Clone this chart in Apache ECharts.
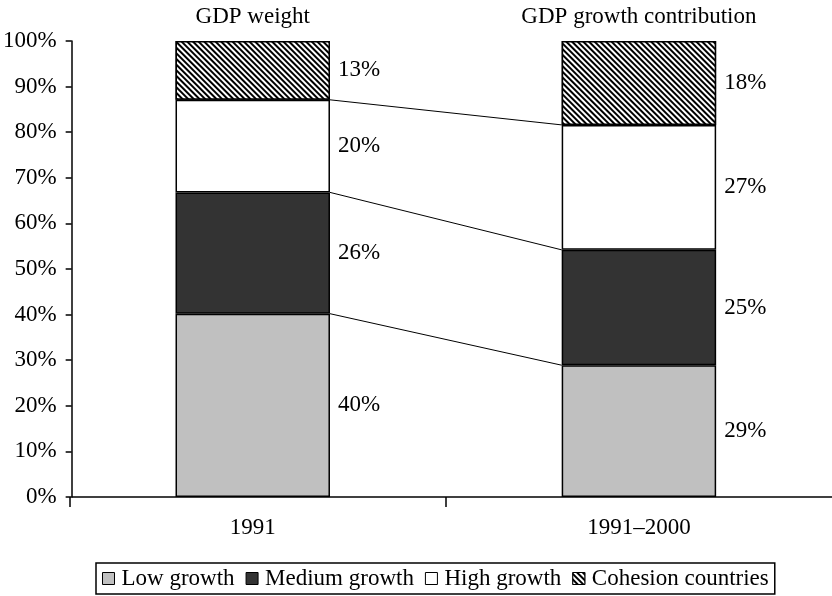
<!DOCTYPE html>
<html>
<head>
<meta charset="utf-8">
<script src="https://cdn.jsdelivr.net/npm/echarts@6/dist/echarts.min.js"></script>
<style>html,body{margin:0;padding:0;background:#fff;}#c{width:832px;height:596px;}</style>
</head>
<body>
<div id="c"></div>
<script>
var categories = ['1991', '1991\u20132000'];
var topLabels = ['GDP weight', 'GDP growth contribution'];
var seriesNames = ['Low growth', 'Medium growth', 'High growth', 'Cohesion countries'];
var lowGrowth = [40.2, 28.9];
var mediumGrowth = [26.6, 25.3];
var highGrowth = [20.3, 27.4];
var cohesion = [12.9, 18.4];
var lowLabels = ['40%', '29%'];
var mediumLabels = ['26%', '25%'];
var highLabels = ['20%', '27%'];
var cohesionLabels = ['13%', '18%'];
var yTicks = [0, 10, 20, 30, 40, 50, 60, 70, 80, 90, 100];

var FONT = '"Liberation Serif", "Times New Roman", serif';
var FS = 23;
var values = [lowGrowth, mediumGrowth, highGrowth, cohesion];
var labels = [lowLabels, mediumLabels, highLabels, cohesionLabels];
var styles = [
  {color: '#c0c0c0'},
  {color: '#333333'},
  {color: '#ffffff'},
  {color: '#ffffff', decal: {symbol: 'rect', symbolSize: 1, dashArrayX: [1, 0], dashArrayY: [2, 2], rotation: Math.PI / 4, color: '#000000', backgroundColor: '#ffffff'}}
];

var series = [];
values.forEach(function (arr, k) {
  series.push({
    name: seriesNames[k],
    type: 'bar',
    stack: 'total',
    xAxisIndex: 0,
    yAxisIndex: 0,
    barWidth: '40%',
    data: arr,
    itemStyle: Object.assign({borderColor: '#000', borderWidth: 1.5}, styles[k]),
    label: {
      show: true,
      position: 'right',
      distance: 8,
      fontFamily: FONT,
      fontSize: FS,
      color: '#000',
      formatter: function (p) { return labels[k][p.dataIndex]; }
    },
    emphasis: {disabled: true}
  });
});

// connector lines between segment boundaries
var cum1 = 0, cum2 = 0;
for (var k = 0; k < 3; k++) {
  cum1 += values[k][0];
  cum2 += values[k][1];
  series.push({
    type: 'line',
    xAxisIndex: 1,
    yAxisIndex: 0,
    data: [[0.2, cum1], [0.8, cum2]],
    symbol: 'none',
    lineStyle: {color: '#000', width: 1},
    silent: true,
    z: 1
  });
}

// baseline
var axisLeft = -0.5 + 12 / 388;
series.push({
  type: 'line',
  xAxisIndex: 1,
  yAxisIndex: 0,
  data: [],
  clip: false,
  silent: true,
  markLine: {
    silent: true,
    symbol: 'none',
    label: {show: false},
    lineStyle: {color: '#000', width: 1.5, type: 'solid'},
    data: [
      [{coord: [axisLeft, 0]}, {coord: [1.5, 0]}]
    ]
  }
});
// dummy series for the helper grid (ticks below the baseline)
series.push({type: 'line', xAxisIndex: 3, yAxisIndex: 1, data: [], silent: true});

var chart = echarts.init(document.getElementById('c'), null, {renderer: 'canvas'});
chart.setOption({
  animation: false,
  backgroundColor: '#fff',
  textStyle: {fontFamily: FONT},
  grid: [
    {left: 58, top: 41, width: 776, height: 456, containLabel: false},
    {left: 70, top: 41, width: 376, height: 456, containLabel: false}
  ],
  xAxis: [
    {
      type: 'category', data: categories, position: 'bottom', gridIndex: 0,
      axisLine: {show: false},
      axisTick: {show: false},
      axisLabel: {margin: 19, fontFamily: FONT, fontSize: FS, color: '#000'}
    },
    {
      type: 'value', min: -0.5, max: 1.5, show: false, gridIndex: 0
    },
    {
      type: 'category', data: topLabels, position: 'top', gridIndex: 0,
      axisLine: {show: false}, axisTick: {show: false},
      axisLabel: {margin: 13, fontFamily: FONT, fontSize: FS, color: '#000'}
    },
    {
      type: 'category', data: [''], position: 'bottom', gridIndex: 1,
      axisLine: {show: false},
      axisTick: {show: true, length: 10, lineStyle: {color: '#000', width: 1.5}},
      axisLabel: {show: false}
    }
  ],
  yAxis: [
    {
      type: 'value', min: 0, max: 100, interval: 10, offset: -12, gridIndex: 0,
      axisLine: {show: true, onZero: false, lineStyle: {color: '#000', width: 1.5}},
      axisTick: {show: true, length: 6, lineStyle: {color: '#000', width: 1.5}},
      splitLine: {show: false},
      axisLabel: {
        margin: 15, fontFamily: FONT, fontSize: FS, color: '#000',
        formatter: function (v) { return yTicks.indexOf(v) >= 0 ? v + '%' : ''; }
      }
    },
    {type: 'value', min: 0, max: 100, show: false, gridIndex: 1}
  ],
  legend: {
    data: seriesNames,
    top: 563,
    left: 96,
    orient: 'horizontal',
    icon: 'rect',
    itemWidth: 12,
    itemHeight: 12,
    itemGap: 11,
    padding: [4, 6],
    borderColor: '#000',
    borderWidth: 1.5,
    itemStyle: {borderColor: '#000', borderWidth: 1},
    textStyle: {fontFamily: FONT, fontSize: FS, color: '#000', padding: [0, 0, 0, 2]},
    selectedMode: false
  },
  series: series
});
</script>
</body>
</html>
